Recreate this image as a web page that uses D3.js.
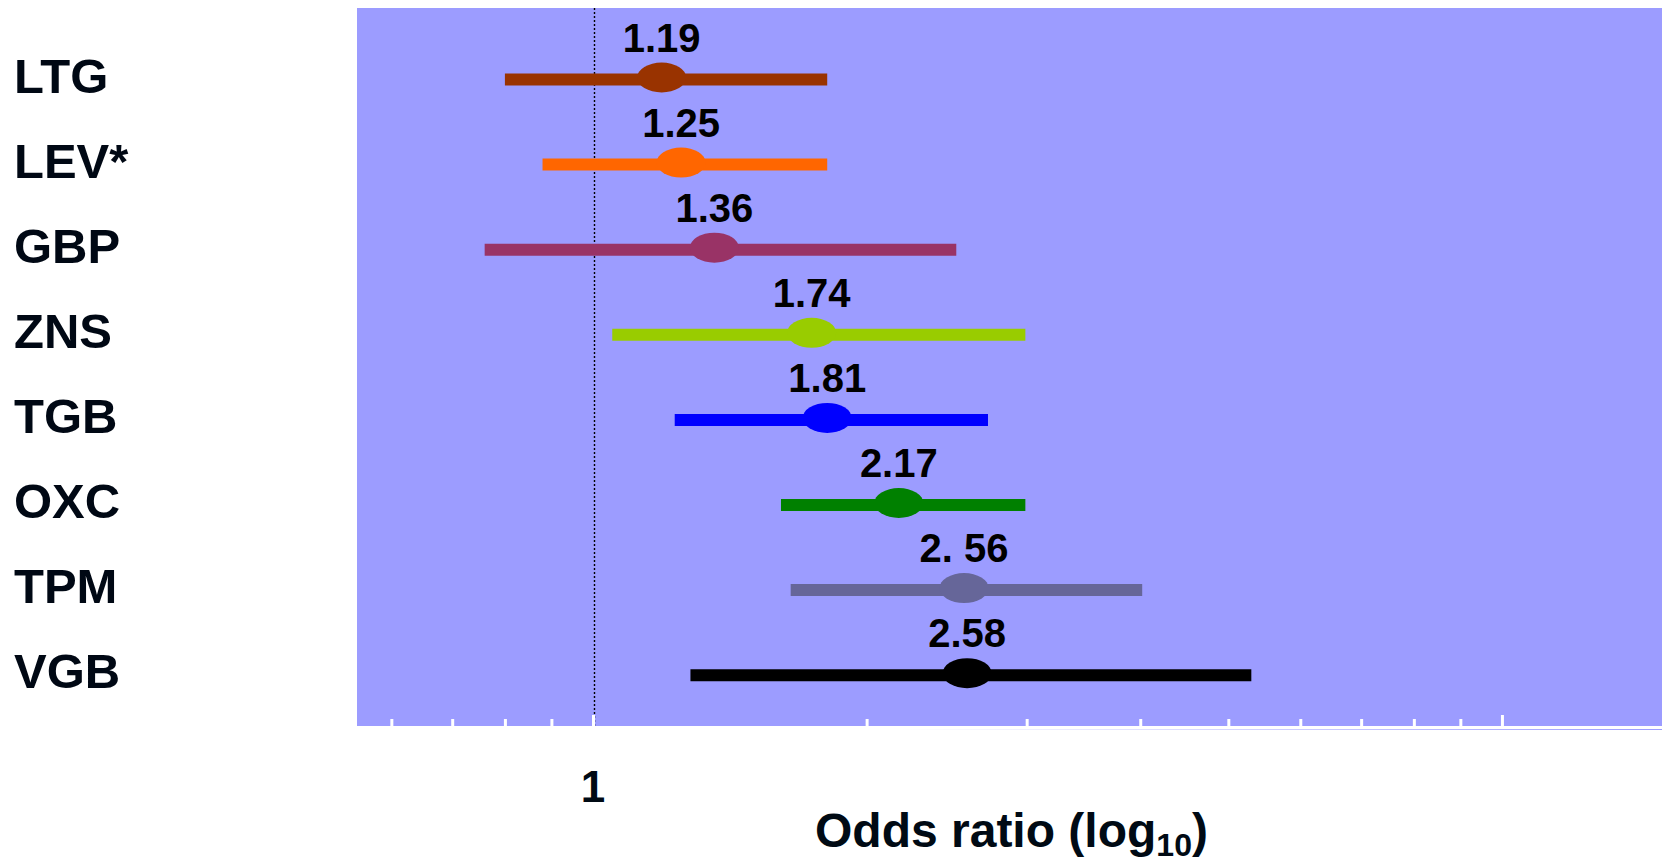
<!DOCTYPE html>
<html>
<head>
<meta charset="utf-8">
<script src="https://cdn.jsdelivr.net/npm/d3@7"></script>
<style>
  html, body { margin: 0; padding: 0; background: #ffffff; }
  svg { display: block; }
  text { font-family: "Liberation Sans", Arial, Helvetica, sans-serif; font-weight: bold; }
</style>
</head>
<body>
<svg id="chart" width="1664" height="864"></svg>
<script>
// ---- data ----
const categories = ["LTG", "LEV*", "GBP", "ZNS", "TGB", "OXC", "TPM", "VGB"];
const oddsRatio = [1.19, 1.25, 1.36, 1.74, 1.81, 2.17, 2.56, 2.58];
const pointLabels = ["1.19", "1.25", "1.36", "1.74", "1.81", "2.17", "2. 56", "2.58"];
const ciLower = [0.80, 0.88, 0.76, 1.05, 1.23, 1.61, 1.65, 1.28];
const ciUpper = [1.81, 1.81, 2.51, 2.99, 2.72, 2.99, 4.02, 5.30];
const seriesColors = ["#993300", "#ff6600", "#993366", "#99cc00", "#0000ff", "#008000", "#666699", "#000000"];
const majorTicks = [1, 10];
const minorTicks = [0.6, 0.7, 0.8, 0.9, 2, 3, 4, 5, 6, 7, 8, 9];
const tickLabels = [{ value: 1, text: "1" }];
const xDomain = [0.55, 15];

// ---- layout ----
const svg = d3.select("#chart");
const plot = { left: 357, right: 1662, top: 8, bottom: 726 };

const x = d3.scaleLog().domain(xDomain).range([plot.left, plot.right]);
const y = d3.scalePoint().domain(categories).range([79.5, 675.2]);

const rows = categories.map((c, i) => ({
  cat: c, or: oddsRatio[i], label: pointLabels[i],
  lo: ciLower[i], hi: ciUpper[i], color: seriesColors[i]
}));

// background
svg.append("rect")
  .attr("x", plot.left).attr("y", plot.top)
  .attr("width", plot.right - plot.left).attr("height", plot.bottom - plot.top)
  .attr("fill", "#9c9cff");

// faint line under the axis
const grad = svg.append("defs").append("linearGradient").attr("id", "fade")
  .attr("x1", "0%").attr("x2", "100%");
grad.append("stop").attr("offset", "0%").attr("stop-color", "#9c9cff").attr("stop-opacity", 0);
grad.append("stop").attr("offset", "100%").attr("stop-color", "#9c9cff").attr("stop-opacity", 1);
svg.append("rect").attr("x", 900).attr("y", plot.bottom + 2.5)
  .attr("width", plot.right - 900).attr("height", 1.5).attr("fill", "url(#fade)");

// reference line at OR = 1
svg.append("line")
  .attr("x1", x(1) + 1.5).attr("x2", x(1) + 1.5)
  .attr("y1", plot.top).attr("y2", plot.bottom)
  .attr("stroke", "#000").attr("stroke-width", 1.4)
  .attr("stroke-dasharray", "2,2");

// axis (ticks pointing up into plot)
const axisG = svg.append("g").attr("transform", `translate(0,${plot.bottom})`);
const allTicks = minorTicks.concat(majorTicks);
axisG.call(d3.axisTop(x).tickValues(allTicks).tickSize(7).tickFormat(""));
axisG.select(".domain").attr("stroke", "#ffffff").attr("stroke-width", 3)
  .attr("d", `M${plot.left},1.5H${plot.right}`);
axisG.selectAll(".tick line")
  .attr("stroke", "#ffffff").attr("stroke-width", 3)
  .attr("y2", d => majorTicks.includes(d) ? -11 : -7);

// tick labels
svg.selectAll(".tlabel").data(tickLabels).join("text")
  .attr("class", "tlabel")
  .attr("x", d => x(d.value)).attr("y", 802)
  .attr("text-anchor", "middle")
  .attr("font-size", 44).attr("fill", "#000a14")
  .text(d => d.text);

// axis title
const title = svg.append("text")
  .attr("x", 815).attr("y", 847)
  .attr("font-size", 48).attr("fill", "#000a14");
title.append("tspan").text("Odds ratio (log");
title.append("tspan").attr("font-size", 32).attr("dy", 9).text("10");
title.append("tspan").attr("dy", -9).text(")");

// CI lines
svg.selectAll(".ci").data(rows).join("line")
  .attr("class", "ci")
  .attr("x1", d => x(d.lo)).attr("x2", d => x(d.hi))
  .attr("y1", d => y(d.cat)).attr("y2", d => y(d.cat))
  .attr("stroke", d => d.color).attr("stroke-width", 12);

// point estimates
svg.selectAll(".pt").data(rows).join("ellipse")
  .attr("class", "pt")
  .attr("cx", d => x(d.or)).attr("cy", d => y(d.cat) - 2)
  .attr("rx", 24.5).attr("ry", 15)
  .attr("fill", d => d.color);

// value labels
svg.selectAll(".val").data(rows).join("text")
  .attr("class", "val")
  .attr("x", d => x(d.or)).attr("y", d => y(d.cat) - 28)
  .attr("text-anchor", "middle")
  .attr("font-size", 40).attr("fill", "#000")
  .text(d => d.label);

// category labels
svg.selectAll(".cat").data(rows).join("text")
  .attr("class", "cat")
  .attr("x", 14).attr("y", d => y(d.cat) + 13)
  .attr("font-size", 49).attr("fill", "#000814")
  .text(d => d.cat);
</script>
</body>
</html>
